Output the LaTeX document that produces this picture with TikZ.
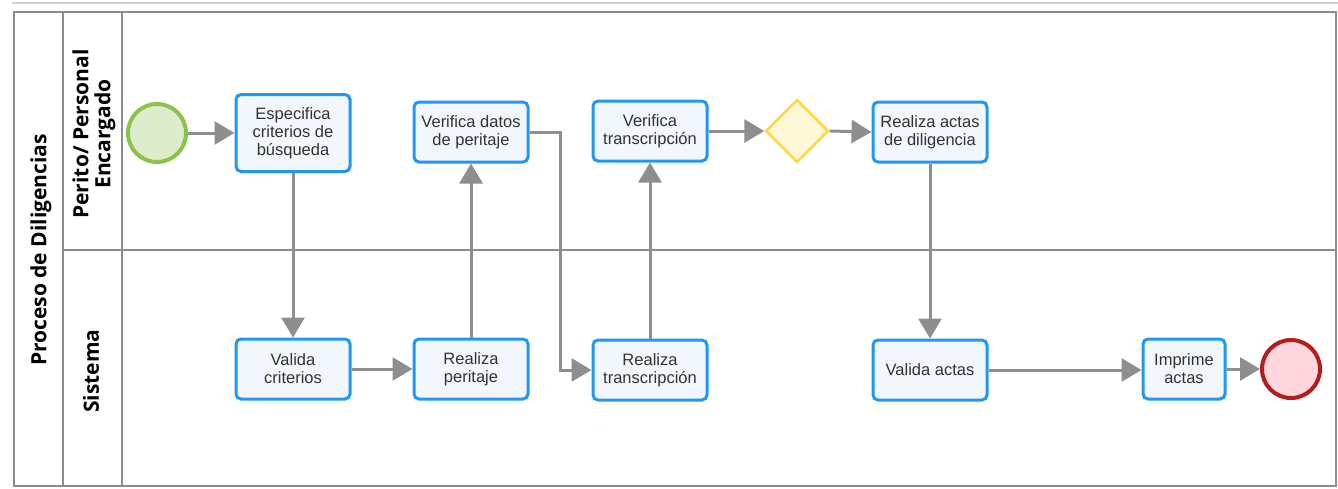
\documentclass[tikz,border=0pt]{standalone}
\usepackage{fontspec}
\setmainfont{Liberation Sans}
\newfontfamily\lanefont{Open Sans}
\usetikzlibrary{arrows.meta,shapes.geometric}

\definecolor{poolline}{HTML}{8C8C8C}
\definecolor{topline}{HTML}{C9D1DD}
\definecolor{taskline}{HTML}{2196F3}
\definecolor{taskfill}{HTML}{F2F7FD}
\definecolor{startline}{HTML}{8BC34A}
\definecolor{startfill}{HTML}{DDEDCB}
\definecolor{endline}{HTML}{B71C1C}
\definecolor{endfill}{HTML}{FFD7DC}
\definecolor{gateline}{HTML}{FFD740}
\definecolor{gatefill}{HTML}{FFF8D6}
\definecolor{flowgray}{HTML}{8E8E8E}
\definecolor{txt}{HTML}{333333}

\tikzset{
  task/.style={draw=taskline, fill=taskfill, line width=3pt, rounded corners=5pt,
    minimum width=114pt, minimum height=60pt, inner sep=1pt, align=center,
    text=txt, font=\fontsize{16.5}{18}\selectfont},
  startev/.style={circle, draw=startline, fill=startfill, line width=4pt, minimum size=58pt, inner sep=0pt},
  endev/.style={circle, draw=endline, fill=endfill, line width=4pt, minimum size=58pt, inner sep=0pt},
  gateway/.style={diamond, draw=gateline, fill=gatefill, line width=2.5pt, minimum width=63pt, minimum height=63pt, inner sep=0pt},
  flow/.style={draw=flowgray, line width=3pt, -{Triangle[length=20pt,width=23pt]}},
  lane/.style={draw=poolline, line width=2.5pt},
  lanelabel/.style={rotate=90, align=center, text=black, font=\lanefont\bfseries\fontsize{21}{22}\selectfont}
}

\begin{document}
\begin{tikzpicture}[x=1pt, y=-1pt]
  \useasboundingbox (0,0) rectangle (1338,488);

  % thin rule along the top
  \draw[topline, line width=1.5pt] (12,3) -- (1338,3);

  % pool and lanes
  \draw[lane] (14,12) rectangle (1336,486);
  \draw[lane] (63,12) -- (63,486);
  \draw[lane] (122,12) -- (122,486);
  \draw[lane] (63,250) -- (1336,250);

  \node[lanelabel] (pool) at (41,250) {Proceso de Diligencias};
  \node[lanelabel] (lanePerito) at (94,134) {Perito/ Personal\\Encargado};
  \node[lanelabel] (laneSistema) at (91,371) {Sistema};

  % events, tasks and gateway
  \node[startev] (start) at (157,133) {};
  \node[task, minimum height=77pt] (esp) at (293,133) {Especifica\\criterios de\\búsqueda};
  \node[task] (vc) at (293,369) {Valida\\criterios};
  \node[task] (vd) at (471,132) {Verifica datos\\de peritaje};
  \node[task] (rp) at (471,369) {Realiza\\peritaje};
  \node[task] (vt) at (650,131) {Verifica\\transcripción};
  \node[task] (rt) at (650,370) {Realiza\\transcripción};
  \node[gateway] (gw) at (797,131) {};
  \node[task] (ra) at (930,132) {Realiza actas\\de diligencia};
  \node[task] (va) at (930,370) {Valida actas};
  \node[task, minimum width=82pt] (ia) at (1184,369) {Imprime\\actas};
  \node[endev] (fin) at (1291,369) {};

  % sequence flows
  \draw[flow] (start) -- (esp);
  \draw[flow] (esp) -- (vc);
  \draw[flow] (vc) -- (rp);
  \draw[flow] (rp) -- (vd);
  \draw[flow] (vd.east) -- ++(31,0) |- (rt.west);
  \draw[flow] (rt) -- (vt);
  \draw[flow] (vt) -- (gw);
  \draw[flow] (gw.east) -- (ra.west);
  \draw[flow] (ra) -- (va);
  \draw[flow] (va) -- (va -| ia.west);
  \draw[flow] (ia) -- (fin);
\end{tikzpicture}
\end{document}
